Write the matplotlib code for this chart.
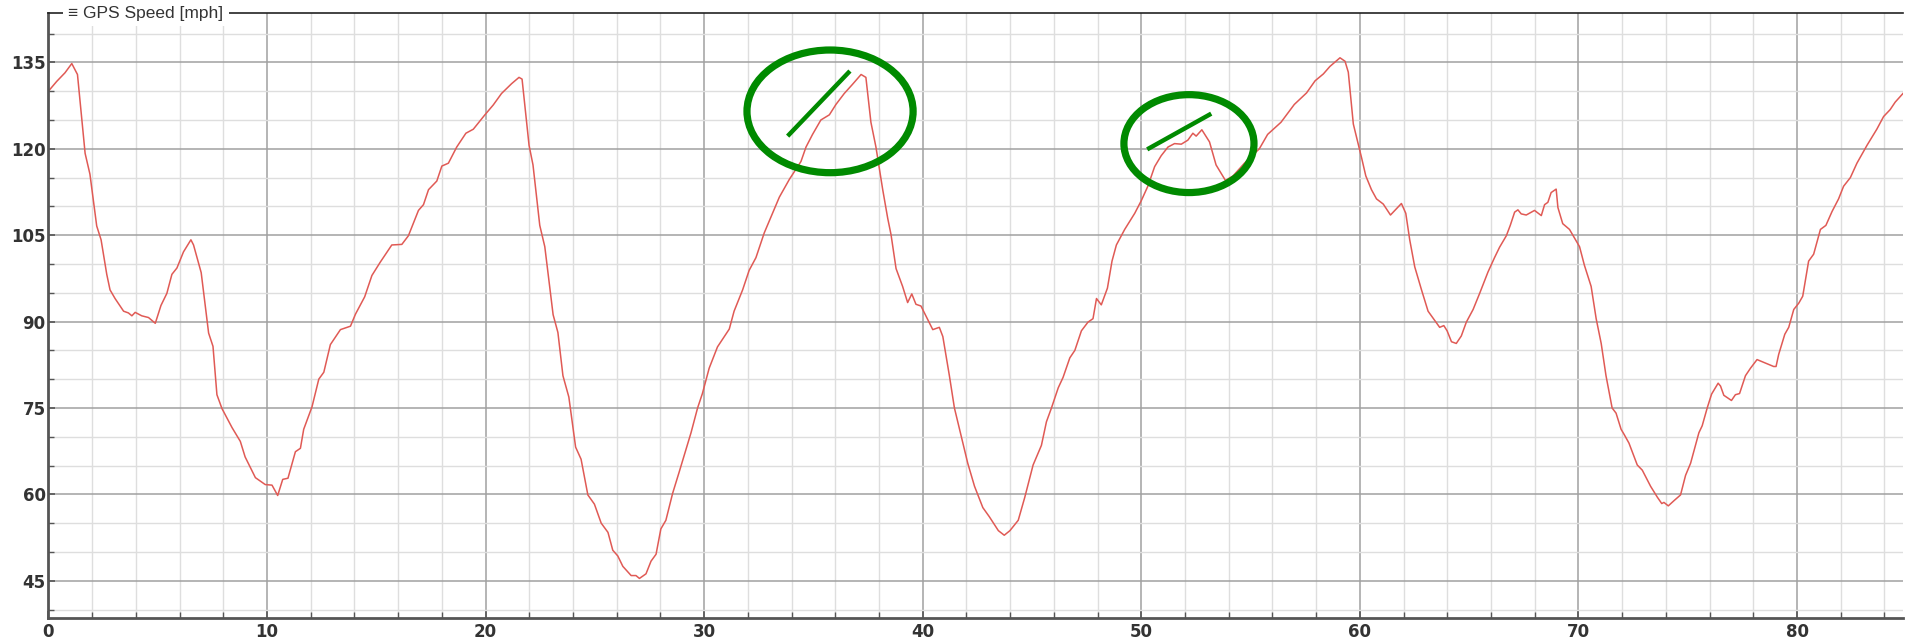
import matplotlib
matplotlib.use('Agg')
import matplotlib.pyplot as plt
from matplotlib.patches import Ellipse
from matplotlib.ticker import MultipleLocator

# GPS speed trace (time on x, mph on y)
t = [0.0, 0.38, 0.76, 1.07, 1.33, 1.68, 1.9, 2.21, 2.41, 2.67, 2.82, 3.05, 3.44, 3.66, 3.82, 3.97,
     4.27, 4.58, 4.89, 5.15, 5.42, 5.65, 5.88, 6.18, 6.52, 6.64, 6.99, 7.33, 7.53, 7.71, 7.94, 8.4,
     8.78, 9.0, 9.47, 9.92, 10.23, 10.49, 10.72, 10.96, 11.3, 11.53, 11.68, 12.06, 12.37, 12.6,
     12.9, 13.13, 13.36, 13.82, 14.05, 14.47, 14.8, 15.18, 15.71, 16.17, 16.47, 16.93, 17.16,
     17.39, 17.77, 18.0, 18.3, 18.68, 19.1, 19.44, 19.97, 20.35, 20.73, 21.19, 21.53, 21.67,
     21.99, 22.17, 22.48, 22.71, 23.09, 23.31, 23.54, 23.81, 24.12, 24.37, 24.68, 24.98, 25.29,
     25.6, 25.82, 26.05, 26.28, 26.66, 26.88, 27.04, 27.34, 27.57, 27.8, 28.02, 28.25, 28.56,
     28.86, 29.4, 29.7, 29.92, 30.23, 30.61, 31.15, 31.37, 31.76, 32.06, 32.37, 32.75, 33.13,
     33.44, 33.9, 34.43, 34.66, 34.96, 35.34, 35.73, 36.03, 36.41, 36.79, 37.18, 37.4, 37.63,
     37.86, 38.17, 38.4, 38.55, 38.78, 39.08, 39.31, 39.5, 39.69, 39.92, 40.46, 40.76, 40.92,
     41.22, 41.45, 41.76, 42.06, 42.37, 42.75, 43.05, 43.46, 43.73, 43.99, 44.37, 44.67, 45.05,
     45.43, 45.66, 45.89, 46.2, 46.42, 46.73, 46.96, 47.26, 47.56, 47.79, 47.95, 48.17, 48.45,
     48.66, 48.86, 49.24, 49.7, 50.0, 50.3, 50.61, 50.91, 51.22, 51.52, 51.83, 52.13, 52.36,
     52.51, 52.77, 53.12, 53.42, 53.85, 54.2, 54.72, 55.4, 55.78, 56.39, 57.0, 57.56, 57.95,
     58.33, 58.63, 59.09, 59.32, 59.47, 59.7, 59.92, 60.08, 60.27, 60.53, 60.76, 61.07, 61.4,
     61.6, 61.9, 62.1, 62.28, 62.51, 62.82, 63.12, 63.42, 63.65, 63.84, 63.99, 64.19, 64.41,
     64.64, 64.87, 65.18, 65.48, 65.86, 66.16, 66.39, 66.7, 66.88, 67.08, 67.23, 67.38, 67.61,
     67.99, 68.3, 68.45, 68.6, 68.75, 68.98, 69.06, 69.28, 69.59, 69.82, 70.05, 70.27, 70.58,
     70.81, 71.04, 71.26, 71.54, 71.72, 71.95, 72.09, 72.31, 72.69, 72.92, 73.3, 73.61, 73.81,
     73.91, 74.11, 74.37, 74.67, 74.9, 75.13, 75.51, 75.66, 75.89, 76.09, 76.39, 76.5, 76.65,
     77.0, 77.18, 77.37, 77.64, 77.87, 78.17, 78.55, 78.93, 79.04, 79.16, 79.44, 79.62, 79.85,
     80.08, 80.26, 80.53, 80.76, 81.07, 81.32, 81.6, 81.9, 82.13, 82.44, 82.74, 83.2, 83.65,
     83.96, 84.26, 84.49, 84.87]
speed = [130.0, 131.7, 133.2, 134.8, 132.9, 119.2, 115.6, 106.6, 104.2, 98.2, 95.5, 94.0, 91.8,
         91.5, 91.0, 91.6, 91.0, 90.7, 89.7, 92.8, 94.9, 98.2, 99.3, 102.1, 104.2, 103.3, 98.5,
         88.0, 85.7, 77.3, 74.9, 71.6, 69.2, 66.5, 62.9, 61.7, 61.6, 59.8, 62.6, 62.8, 67.4, 68.0,
         71.3, 75.2, 80.0, 81.2, 86.0, 87.3, 88.6, 89.2, 91.3, 94.3, 98.0, 100.3, 103.3, 103.4,
         104.9, 109.3, 110.3, 112.9, 114.4, 117.0, 117.5, 120.3, 122.7, 123.4, 125.9, 127.6,
         129.6, 131.3, 132.4, 132.1, 120.6, 117.2, 106.7, 103.0, 91.2, 88.1, 80.6, 76.9, 68.2,
         66.1, 59.9, 58.3, 55.0, 53.4, 50.3, 49.3, 47.5, 45.9, 45.9, 45.4, 46.2, 48.4, 49.6, 54.0,
         55.5, 60.2, 63.9, 70.7, 75.0, 77.5, 81.9, 85.6, 88.7, 91.8, 95.5, 98.9, 101.1, 105.4,
         108.8, 111.6, 114.7, 117.8, 120.3, 122.5, 125.0, 125.9, 127.7, 129.6, 131.2, 132.9,
         132.4, 124.6, 120.3, 112.9, 107.9, 105.1, 99.2, 96.1, 93.3, 94.8, 93.0, 92.7, 88.6, 89.0,
         87.4, 80.6, 75.0, 70.1, 65.4, 61.4, 57.7, 56.1, 53.7, 52.9, 53.7, 55.5, 59.5, 65.1, 68.5,
         72.6, 75.0, 78.5, 80.3, 83.7, 85.0, 88.4, 89.9, 90.5, 94.0, 92.9, 95.8, 100.5, 103.3,
         106.0, 108.8, 111.0, 113.5, 116.9, 118.8, 120.3, 120.9, 120.8, 121.5, 122.7, 122.2,
         123.3, 121.2, 117.2, 114.5, 115.3, 117.5, 120.0, 122.5, 124.6, 127.7, 129.7, 131.8,
         133.0, 134.3, 135.8, 135.2, 133.3, 124.3, 120.9, 118.4, 115.3, 112.9, 111.3, 110.4,
         108.5, 109.3, 110.5, 108.8, 104.2, 99.5, 95.5, 91.8, 90.2, 89.0, 89.3, 88.4, 86.5, 86.2,
         87.5, 89.9, 92.1, 94.9, 98.6, 101.1, 102.9, 104.9, 106.7, 109.0, 109.4, 108.7, 108.5,
         109.3, 108.4, 110.3, 110.7, 112.4, 113.0, 109.8, 107.0, 106.0, 104.5, 103.0, 99.8, 96.1,
         90.5, 86.2, 80.6, 75.0, 74.1, 71.3, 70.4, 68.9, 65.1, 64.2, 61.4, 59.5, 58.4, 58.6, 58.0,
         58.9, 59.9, 63.3, 65.4, 70.7, 71.9, 75.0, 77.4, 79.3, 78.8, 77.2, 76.3, 77.3, 77.5, 80.6,
         81.9, 83.4, 82.8, 82.2, 82.2, 84.3, 87.8, 89.0, 92.1, 93.2, 94.4, 100.5, 101.7, 106.0,
         106.7, 109.1, 111.3, 113.5, 115.0, 117.5, 120.6, 123.4, 125.6, 126.8, 128.1, 129.7]

# hand-drawn green markings: (center x, center y, width, height) and slash endpoints
circles = [(35.76, 126.5, 7.6, 21.3), (52.18, 120.9, 5.95, 17.0)]
slashes = [((33.82, 36.67), (122.2, 133.5)), ((50.27, 53.2), (119.9, 126.1))]

fig = plt.figure(figsize=(19.13, 6.4), dpi=100)
ax = fig.add_axes([0.0253, 0.035, 0.9695, 0.944])

ax.plot(t, speed, color='#e05a55', lw=1.1)

for cx, cy, w, h in circles:
    ax.add_patch(Ellipse((cx, cy), w, h, fill=False, ec='#008a00', lw=5.2, zorder=5))
for xs, ys in slashes:
    ax.plot(xs, ys, color='#008a00', lw=3.2, zorder=5, solid_capstyle='butt')

ax.set_xlim(0, 84.85)
ax.set_ylim(38.6, 143.5)

ax.xaxis.set_major_locator(MultipleLocator(10))
ax.xaxis.set_minor_locator(MultipleLocator(2))
ax.yaxis.set_major_locator(MultipleLocator(15))
ax.yaxis.set_minor_locator(MultipleLocator(5))
ax.set_yticks([45, 60, 75, 90, 105, 120, 135])

ax.grid(which='major', color='#a0a0a0', lw=1.1)
ax.grid(which='minor', color='#dedede', lw=1.0)
ax.set_axisbelow(True)

ax.tick_params(which='both', direction='in', colors='#555555', labelcolor='#333333')
ax.tick_params(which='major', length=5, width=1.2)
ax.tick_params(which='minor', length=4, width=1.0)
ax.tick_params(axis='y', pad=2)
ax.tick_params(axis='x', pad=4)
for lab in ax.get_xticklabels() + ax.get_yticklabels():
    lab.set_fontweight('bold')
    lab.set_fontsize(12)

ax.spines['right'].set_visible(False)
ax.spines['left'].set_color('#555555')
ax.spines['left'].set_linewidth(2)
ax.spines['bottom'].set_color('#555555')
ax.spines['bottom'].set_linewidth(2)
ax.spines['top'].set_color('#222222')
ax.spines['top'].set_linewidth(1.2)

ax.text(0.0108, 1.0, '\u2261 GPS Speed [mph]', transform=ax.transAxes, ha='left', va='center',
        fontsize=12.5, color='#333333', family=['Liberation Sans', 'DejaVu Sans'],
        bbox=dict(fc='white', ec='none', pad=4), zorder=10)

fig.savefig('out.png', dpi=100)
